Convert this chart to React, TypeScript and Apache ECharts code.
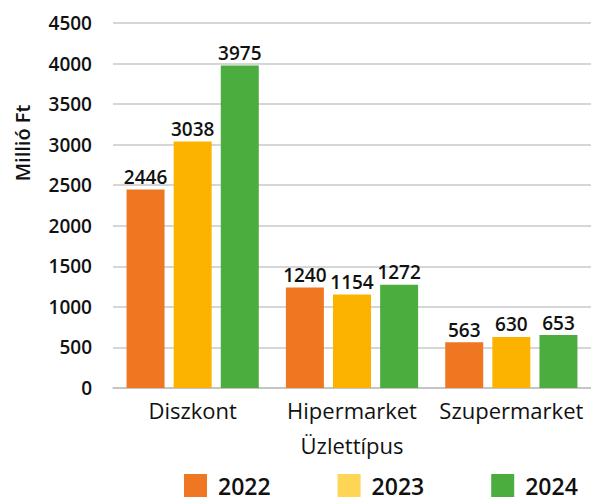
import React, { useEffect, useRef } from "react";
import * as echarts from "echarts";

const categories = ["Diszkont", "Hipermarket", "Szupermarket"];
const seriesNames = ["2022", "2023", "2024"];
const values2022 = [2446, 1240, 563];
const values2023 = [3038, 1154, 630];
const values2024 = [3975, 1272, 653];
const barColors = ["#F07722", "#FBB300", "#4BAD3E"];
const legendColors = ["#F07722", "#FFD555", "#4BAD3E"];

const FONT = "'Open Sans', 'Noto Sans', sans-serif";

export default function App() {
  const ref = useRef<HTMLDivElement>(null);
  useEffect(() => {
    if (!ref.current) return;
    const chart = echarts.init(ref.current, null, { renderer: "svg" });
    const data = [values2022, values2023, values2024];
    chart.setOption({
      animation: false,
      textStyle: { fontFamily: FONT },
      grid: { left: 113, right: 0, top: 23, bottom: 109 },
      legend: {
        data: seriesNames.map((n, i) => ({ name: n, itemStyle: { color: legendColors[i] } })),
        left: 184,
        top: 474,
        padding: 0,
        itemWidth: 23,
        itemHeight: 23,
        itemGap: 67,
        icon: "rect",
        textStyle: { fontFamily: FONT, fontSize: 23, fontWeight: 600, color: "#111", padding: [0, 0, 0, 6] },
      },
      xAxis: {
        type: "category",
        data: categories,
        name: "Üzlettípus",
        nameLocation: "middle",
        nameGap: 46,
        nameTextStyle: { fontFamily: FONT, fontSize: 22, fontWeight: 500, color: "#111" },
        axisLine: { lineStyle: { color: "#bfbfbf", width: 1.5 } },
        axisTick: { show: false },
        axisLabel: { interval: 0, fontFamily: FONT, fontSize: 22, fontWeight: 500, color: "#111", margin: 11 },
      },
      yAxis: {
        type: "value",
        min: 0,
        max: 4500,
        interval: 500,
        axisLine: { show: false },
        axisTick: { show: false },
        splitLine: { lineStyle: { color: "#c8c8c8", width: 1.5 } },
        axisLabel: {
          fontFamily: FONT,
          fontSize: 19,
          fontWeight: 600,
          color: "#111",
          margin: 21,
          formatter: (v: number) => String(v),
        },
      },
      graphic: [
        {
          type: "text",
          x: 22,
          y: 143,
          rotation: Math.PI / 2,
          style: {
            text: "Millió Ft",
            fontFamily: FONT,
            fontSize: 20,
            fontWeight: 600,
            fill: "#111",
            align: "center",
            verticalAlign: "middle",
          },
        },
      ],
      series: seriesNames.map((n, i) => ({
        name: n,
        type: "bar",
        data: data[i],
        barWidth: 38,
        barGap: "24%",
        itemStyle: { color: barColors[i] },
        label: {
          show: true,
          position: "top",
          distance: 3,
          fontFamily: FONT,
          fontSize: 19,
          fontWeight: 600,
          color: "#111",
        },
      })),
    });
    return () => chart.dispose();
  }, []);
  return (
    <div
      ref={ref}
      style={{ position: "fixed", left: 0, top: 0, width: 591, height: 497, background: "#fff" }}
    />
  );
}
